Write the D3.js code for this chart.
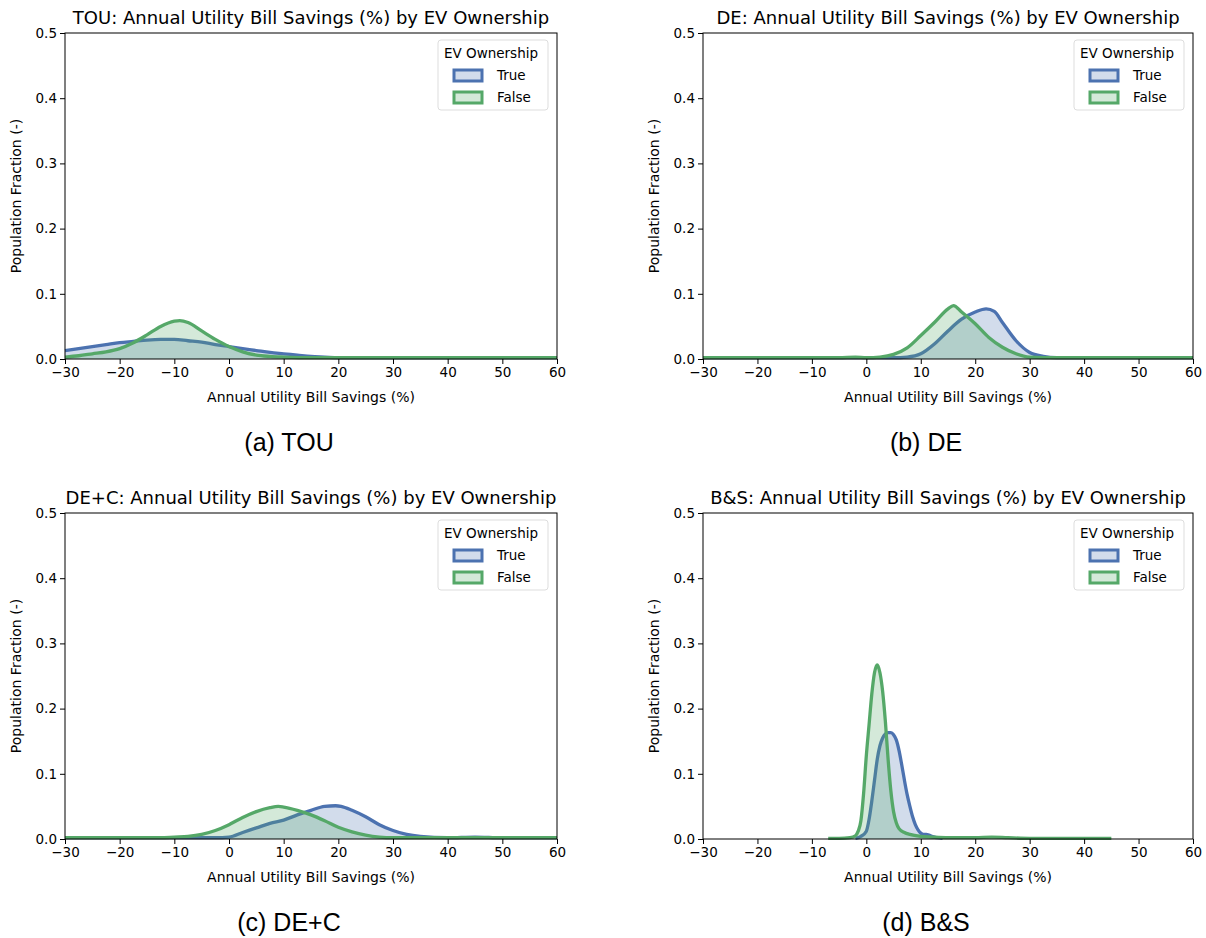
<!DOCTYPE html>
<html>
<head>
<meta charset="utf-8">
<script src="https://cdn.jsdelivr.net/npm/d3@7"></script>
<style>
  body { margin: 0; background: #fff; }
  svg { display: block; }
  text { font-family: "DejaVu Sans", sans-serif; fill: #000; }
  .caption { font-family: "Liberation Sans", Arial, sans-serif; }
</style>
</head>
<body>
<svg id="chart" width="1206" height="938"></svg>
<script>
// Axis settings shared by all four panels
const xTicks = [-30, -20, -10, 0, 10, 20, 30, 40, 50, 60];
const yTicks = [0.0, 0.1, 0.2, 0.3, 0.4, 0.5];
const xDomain = [-30, 60];
const yDomain = [0, 0.5];
const seriesNames = ["True", "False"];
const legendTitle = "EV Ownership";
const xLabel = "Annual Utility Bill Savings (%)";
const yLabel = "Population Fraction (-)";

// KDE curves: [savings %, population fraction]
const touTrue = [[-30,0.013],[-27.5,0.016],[-25,0.019],[-22.5,0.022],[-20,0.025],[-17.5,0.027],[-15,0.029],[-12.5,0.030],[-10,0.030],[-7.5,0.028],[-5,0.026],[-2.5,0.022],[0,0.019],[2.5,0.016],[5,0.013],[7.5,0.010],[10,0.008],[12.5,0.006],[15,0.004],[17.5,0.003],[20,0.002],[25,0.002],[30,0.002],[40,0.002],[50,0.002],[60,0.002]];
const touFalse = [[-30,0.003],[-27.5,0.005],[-25,0.008],[-22.5,0.011],[-20,0.016],[-17.5,0.025],[-15,0.037],[-12.5,0.050],[-10,0.058],[-9,0.059],[-7.5,0.056],[-5,0.043],[-2.5,0.030],[0,0.019],[2.5,0.011],[5,0.006],[7.5,0.004],[10,0.003],[15,0.002],[20,0.002],[30,0.002],[40,0.002],[50,0.002],[60,0.002]];

const deTrue = [[-30,0.002],[0,0.002],[5,0.002],[7.5,0.003],[10,0.008],[12.5,0.023],[15,0.043],[17.5,0.061],[20,0.072],[22,0.077],[23.5,0.073],[25,0.056],[27.5,0.028],[30,0.010],[32.5,0.004],[35,0.002],[40,0.002],[60,0.002]];
const deFalse = [[-30,0.002],[-5,0.002],[-2,0.003],[0,0.002],[2.5,0.003],[5,0.007],[7.5,0.017],[10,0.036],[12.5,0.056],[15,0.077],[16,0.082],[17.5,0.072],[20,0.054],[22.5,0.033],[25,0.018],[27.5,0.008],[30,0.003],[35,0.002],[60,0.002]];

const decTrue = [[-30,0.002],[-5,0.002],[-2.5,0.002],[0,0.003],[2.5,0.010],[5,0.017],[7.5,0.024],[10,0.029],[12.5,0.037],[15,0.044],[17.5,0.050],[19.5,0.051],[20.5,0.050],[22.5,0.044],[25,0.034],[27.5,0.022],[30,0.013],[32.5,0.007],[35,0.004],[40,0.002],[45,0.003],[50,0.002],[60,0.002]];
const decFalse = [[-30,0.002],[-20,0.002],[-12.5,0.002],[-10,0.003],[-7.5,0.004],[-5,0.007],[-2.5,0.013],[0,0.022],[2.5,0.033],[5,0.042],[7.5,0.048],[9,0.050],[10,0.049],[12.5,0.044],[15,0.037],[17.5,0.028],[20,0.018],[22.5,0.011],[25,0.006],[27.5,0.003],[30,0.002],[40,0.002],[60,0.002]];

const bsTrue = [[-2,0.001],[-1,0.004],[0,0.012],[0.5,0.030],[1,0.058],[1.5,0.090],[2,0.122],[2.5,0.143],[3,0.155],[3.5,0.161],[4,0.163],[4.5,0.163],[5,0.160],[5.5,0.152],[6,0.136],[6.5,0.114],[7,0.090],[7.5,0.068],[8,0.050],[8.5,0.034],[9,0.022],[9.5,0.014],[10,0.009],[10.5,0.007],[11,0.007],[11.5,0.006],[12,0.004],[13,0.002],[14,0.001]];
const bsFalse = [[-7,0.001],[-5,0.001],[-3,0.002],[-2,0.005],[-1.5,0.012],[-1,0.028],[-0.5,0.070],[0,0.128],[0.5,0.175],[1,0.222],[1.5,0.255],[2,0.267],[2.5,0.255],[3,0.226],[3.5,0.180],[4,0.122],[4.5,0.074],[5,0.042],[5.5,0.025],[6,0.016],[7,0.010],[8,0.007],[10,0.004],[12,0.003],[15,0.002],[20,0.002],[23,0.003],[26,0.002],[30,0.001],[40,0.001],[45,0.001]];

const panelTitles = ["TOU: Annual Utility Bill Savings (%) by EV Ownership",
                     "DE: Annual Utility Bill Savings (%) by EV Ownership",
                     "DE+C: Annual Utility Bill Savings (%) by EV Ownership",
                     "B&S: Annual Utility Bill Savings (%) by EV Ownership"];
const captions = ["(a) TOU", "(b) DE", "(c) DE+C", "(d) B&S"];
const panelData = [[touTrue, touFalse], [deTrue, deFalse], [decTrue, decFalse], [bsTrue, bsFalse]];

const colors = ["#4C72B0", "#55A868"];
const fills = ["rgba(76,114,176,0.25)", "rgba(85,168,104,0.25)"];

// Panel placement
const frames = [
  {left: 65,  top: 33,  width: 492, height: 326},
  {left: 703, top: 33,  width: 490, height: 326},
  {left: 65,  top: 513, width: 492, height: 326},
  {left: 703, top: 513, width: 490, height: 326}
];

const svg = d3.select("#chart");

frames.forEach((f, i) => {
  const g = svg.append("g").attr("transform", `translate(${f.left},${f.top})`);
  const x = d3.scaleLinear().domain(xDomain).range([0, f.width]);
  const y = d3.scaleLinear().domain(yDomain).range([f.height, 0]);

  const plot = g.append("g");

  const area = d3.area().x(d => x(d[0])).y0(y(0)).y1(d => y(d[1])).curve(d3.curveMonotoneX);
  const line = d3.line().x(d => x(d[0])).y(d => y(d[1])).curve(d3.curveMonotoneX);

  panelData[i].forEach((series, s) => {
    plot.append("path").attr("d", area(series)).attr("fill", fills[s]).attr("stroke", "none");
    plot.append("path").attr("d", line(series)).attr("fill", "none")
      .attr("stroke", colors[s]).attr("stroke-width", 3.3).attr("stroke-linejoin", "round");
  });

  // Axes
  const xAxis = d3.axisBottom(x).tickValues(xTicks).tickFormat(d3.format("d")).tickSize(5).tickPadding(3);
  const yAxis = d3.axisLeft(y).tickValues(yTicks).tickFormat(d3.format(".1f")).tickSize(5).tickPadding(3);
  const gx = g.append("g").attr("transform", `translate(0,${f.height})`).call(xAxis);
  const gy = g.append("g").call(yAxis);
  [gx, gy].forEach(a => {
    a.select(".domain").remove();
    a.selectAll("text").style("font-family", "DejaVu Sans").style("font-size", "13.5px").attr("fill", "#000");
    a.selectAll("line").attr("stroke", "#000").attr("stroke-width", 1);
  });

  // Frame
  g.append("rect").attr("x", 0).attr("y", 0).attr("width", f.width).attr("height", f.height)
    .attr("fill", "none").attr("stroke", "#000").attr("stroke-width", 1);

  // Titles and labels
  g.append("text").attr("x", f.width / 2).attr("y", -9).attr("text-anchor", "middle")
    .style("font-size", "18px").text(panelTitles[i]);
  g.append("text").attr("x", f.width / 2).attr("y", f.height + 43).attr("text-anchor", "middle")
    .style("font-size", "14px").text(xLabel);
  g.append("text").attr("transform", `translate(${-44},${f.height / 2}) rotate(-90)`)
    .attr("text-anchor", "middle").style("font-size", "14px").text(yLabel);

  // Legend
  const lg = g.append("g").attr("transform", `translate(${f.width - 119},7)`);
  lg.append("rect").attr("width", 110).attr("height", 70).attr("rx", 3)
    .attr("fill", "rgba(255,255,255,0.8)").attr("stroke", "#ddd");
  lg.append("text").attr("x", 53).attr("y", 18).attr("text-anchor", "middle")
    .style("font-size", "13.5px").text(legendTitle);
  seriesNames.forEach((n, s) => {
    const yy = 35 + s * 22;
    lg.append("rect").attr("x", 16).attr("y", yy - 5).attr("width", 28).attr("height", 11)
      .attr("fill", fills[s]).attr("stroke", colors[s]).attr("stroke-width", 3);
    lg.append("text").attr("x", 59).attr("y", yy + 5).style("font-size", "13.5px").text(n);
  });

  // Caption under the panel
  g.append("text").attr("class", "caption").attr("x", f.width / 2 - 22).attr("y", f.height + 92)
    .attr("text-anchor", "middle").style("font-size", "25px").text(captions[i]);
});
</script>
</body>
</html>
